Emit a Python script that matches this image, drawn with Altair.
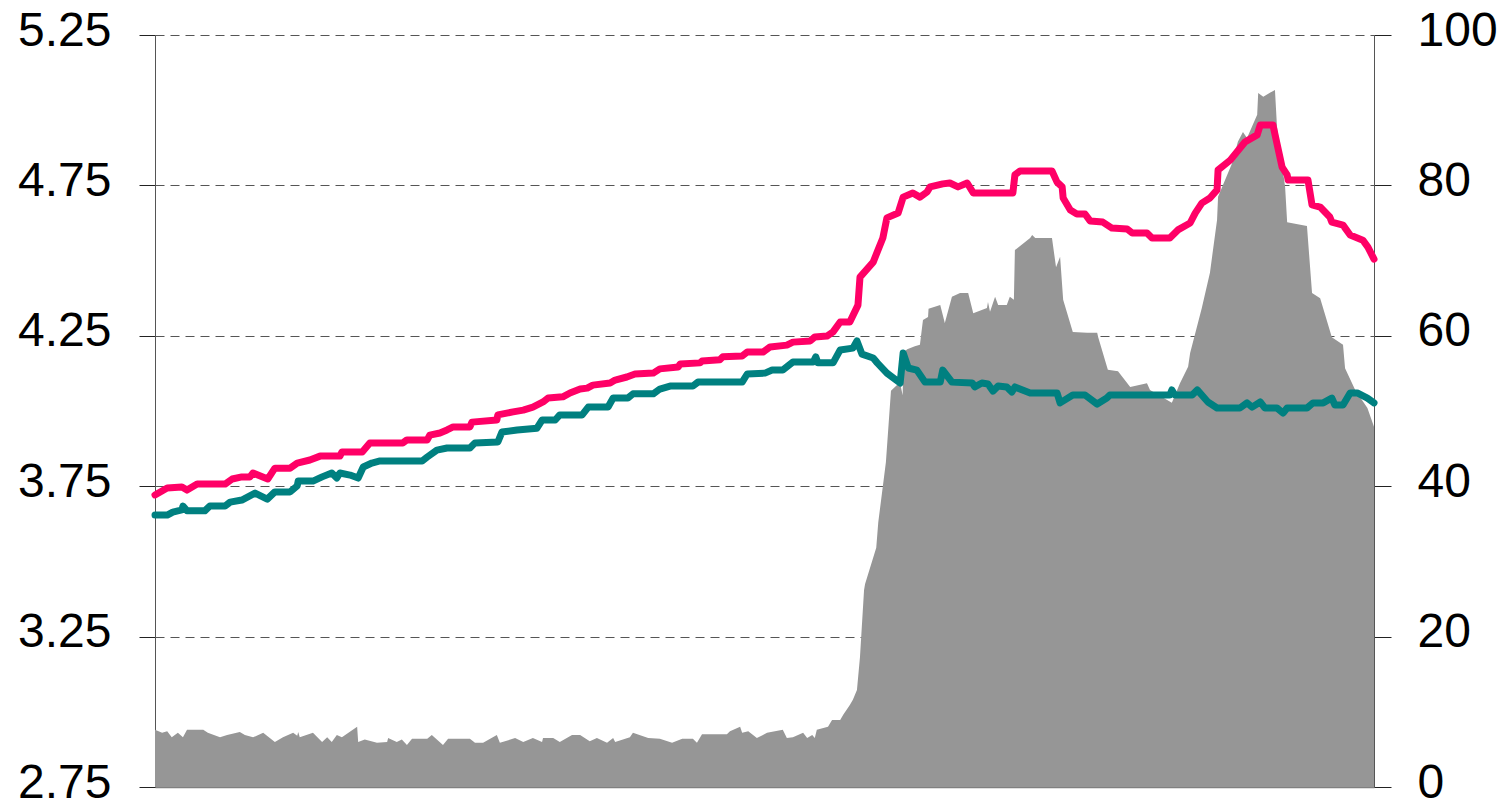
import altair as alt
import pandas as pd

# x: period index (0..240); left axis values for the two lines, right axis values for the grey area
PINK = [[0, 3.721], [2.4, 3.744], [5.3, 3.747], [6.3, 3.737], [8.3, 3.757], [13.8, 3.757], [15.2, 3.774],
        [17.1, 3.781], [18.7, 3.781], [19.3, 3.794], [22.2, 3.774], [23.6, 3.810], [26.6, 3.810], [28.0, 3.827],
        [30.5, 3.837], [32.5, 3.850], [36.4, 3.850], [36.8, 3.864], [40.8, 3.864], [42.3, 3.894], [48.8, 3.894],
        [49.6, 3.904], [53.6, 3.904], [54.1, 3.920], [56.1, 3.927], [57.5, 3.937], [58.7, 3.947], [62.0, 3.947],
        [62.4, 3.963], [67.3, 3.970], [67.5, 3.987], [70.5, 3.997], [72.5, 4.003], [74.4, 4.013], [76.4, 4.030],
        [77.4, 4.043], [80.3, 4.047], [81.7, 4.060], [83.7, 4.073], [85.1, 4.076], [86.2, 4.086], [89.6, 4.093],
        [90.6, 4.103], [92.9, 4.113], [94.5, 4.123], [98.1, 4.126], [99.4, 4.140], [103.0, 4.146], [103.4, 4.156],
        [107.3, 4.160], [107.7, 4.166], [111.2, 4.170], [111.8, 4.180], [115.6, 4.183], [116.6, 4.196],
        [119.7, 4.196], [121.1, 4.213], [124.4, 4.219], [125.6, 4.229], [129.0, 4.233], [129.9, 4.246],
        [132.3, 4.249], [133.5, 4.263], [134.9, 4.296], [136.8, 4.296], [138.4, 4.352], [138.8, 4.445],
        [141.4, 4.495], [142.2, 4.529], [143.3, 4.575], [144.1, 4.642], [146.3, 4.658], [147.3, 4.711],
        [149.2, 4.725], [150.6, 4.711], [152.0, 4.728], [152.6, 4.745], [155.1, 4.755], [156.5, 4.758],
        [158.1, 4.745], [159.9, 4.758], [161.1, 4.725], [168.9, 4.725], [169.3, 4.785], [170.3, 4.798],
        [176.6, 4.798], [177.6, 4.761], [178.6, 4.745], [178.8, 4.708], [180.2, 4.668], [181.5, 4.655],
        [183.1, 4.655], [184.1, 4.632], [186.6, 4.628], [188.4, 4.608], [191.4, 4.605], [192.4, 4.592],
        [195.3, 4.592], [196.3, 4.575], [199.8, 4.575], [201.4, 4.602], [203.8, 4.625], [204.8, 4.658],
        [206.1, 4.691], [207.7, 4.708], [209.1, 4.735], [209.3, 4.801], [211.7, 4.834], [214.6, 4.894],
        [217.0, 4.918], [217.6, 4.951], [220.1, 4.951], [221.9, 4.811], [222.9, 4.785], [223.1, 4.768],
        [227.0, 4.768], [227.8, 4.685], [229.4, 4.678], [231.3, 4.645], [231.7, 4.628], [233.9, 4.618],
        [235.3, 4.585], [237.8, 4.568], [238.8, 4.545], [240, 4.505]]

TEAL = [[0, 3.654], [2.4, 3.654], [3.5, 3.664], [5.3, 3.671], [5.5, 3.684], [6.3, 3.668], [9.8, 3.668],
        [10.8, 3.684], [13.8, 3.684], [14.8, 3.697], [17.1, 3.704], [19.7, 3.727], [22.1, 3.707], [23.6, 3.731],
        [26.6, 3.731], [28.0, 3.751], [28.2, 3.767], [31.1, 3.767], [32.9, 3.781], [34.8, 3.794], [35.8, 3.777],
        [36.4, 3.794], [38.4, 3.787], [40.0, 3.777], [41.0, 3.814], [42.7, 3.827], [44.3, 3.834], [52.6, 3.834],
        [53.6, 3.847], [55.5, 3.870], [57.5, 3.877], [62.0, 3.877], [63.0, 3.894], [67.5, 3.897], [68.3, 3.930],
        [71.3, 3.937], [75.2, 3.943], [76.2, 3.970], [78.8, 3.970], [79.7, 3.987], [84.1, 3.987], [85.3, 4.013],
        [89.2, 4.013], [90.2, 4.043], [93.1, 4.043], [94.1, 4.057], [98.1, 4.057], [99.4, 4.073], [101.4, 4.083],
        [105.9, 4.083], [106.9, 4.096], [115.6, 4.096], [116.6, 4.123], [120.1, 4.126], [121.5, 4.136],
        [123.6, 4.136], [125.6, 4.163], [129.6, 4.163], [130.1, 4.180], [130.5, 4.160], [133.5, 4.160],
        [134.9, 4.203], [137.4, 4.209], [138.2, 4.233], [139.2, 4.189], [141.4, 4.176], [142.2, 4.160],
        [144.1, 4.126], [146.7, 4.093], [147.3, 4.193], [148.3, 4.143], [150.0, 4.136], [151.6, 4.096],
        [154.6, 4.096], [155.1, 4.136], [156.9, 4.096], [160.9, 4.093], [161.4, 4.080], [162.8, 4.093],
        [164.0, 4.090], [165.0, 4.066], [166.0, 4.083], [167.7, 4.080], [168.7, 4.063], [169.3, 4.080],
        [172.3, 4.060], [177.6, 4.060], [178.2, 4.027], [180.7, 4.053], [183.1, 4.053], [185.5, 4.023],
        [187.4, 4.043], [188.0, 4.053], [199.8, 4.053], [200.2, 4.070], [200.8, 4.053], [204.2, 4.053],
        [205.2, 4.070], [207.3, 4.030], [209.1, 4.010], [213.6, 4.010], [215.0, 4.027], [216.0, 4.013],
        [217.6, 4.030], [218.5, 4.010], [220.9, 4.010], [222.1, 3.993], [222.9, 4.010], [226.8, 4.010],
        [228.0, 4.027], [230.0, 4.027], [231.7, 4.043], [232.3, 4.020], [233.9, 4.020], [235.3, 4.060],
        [236.7, 4.060], [238.7, 4.043], [240, 4.027]]

GREY = [[0, 7.6], [1.4, 7.2], [2.4, 7.4], [3.3, 6.6], [4.5, 7.2], [5.5, 6.6], [6.3, 7.6], [9.5, 7.6],
        [10.4, 7.2], [12.8, 6.6], [14.2, 6.9], [16.7, 7.3], [17.7, 6.9], [19.3, 6.6], [21.3, 7.2], [23.6, 6.0],
        [25.2, 6.6], [27.2, 7.2], [28.0, 6.8], [28.2, 7.3], [28.5, 6.6], [31.1, 7.2], [32.9, 6.0], [33.9, 6.6],
        [34.8, 6.0], [35.8, 6.9], [36.8, 6.6], [39.8, 8.0], [40.0, 6.0], [41.3, 6.3], [43.7, 5.9], [45.7, 6.0],
        [45.9, 6.5], [47.6, 6.0], [48.6, 6.3], [49.6, 5.6], [50.6, 6.4], [53.6, 6.4], [54.5, 6.9], [56.7, 5.6],
        [57.7, 6.4], [62.0, 6.4], [63.0, 5.9], [64.6, 5.9], [67.3, 6.9], [67.9, 5.9], [70.9, 6.5], [72.5, 6.0],
        [74.4, 6.5], [76.2, 6.0], [76.4, 6.5], [78.4, 6.5], [79.7, 6.0], [82.1, 6.9], [83.7, 6.9], [85.6, 6.1],
        [87.0, 6.5], [89.0, 5.9], [90.2, 6.5], [90.6, 6.0], [93.5, 6.6], [94.1, 7.2], [97.1, 6.5], [99.4, 6.4],
        [101.8, 5.9], [103.8, 6.4], [105.9, 6.4], [106.7, 5.9], [107.7, 7.0], [112.6, 7.0], [113.2, 7.4],
        [115.2, 8.0], [115.6, 7.2], [116.8, 7.4], [118.5, 6.5], [120.5, 7.2], [123.6, 7.6], [124.4, 6.5],
        [125.6, 6.6], [127.6, 7.2], [128.4, 6.5], [129.4, 6.9], [129.9, 6.5], [130.3, 7.6], [132.5, 8.0],
        [133.3, 8.9], [134.9, 8.9], [135.5, 9.6], [136.8, 10.9], [137.4, 11.6], [138.2, 12.9], [138.8, 17.3],
        [139.6, 26.2], [139.8, 27.0], [142.0, 31.8], [142.4, 35.2], [143.9, 43.2], [144.9, 52.7], [146.3, 53.6],
        [146.7, 53.7], [147.2, 52.1], [147.4, 57.8], [148.1, 58.2], [149.6, 58.6], [150.6, 58.8], [151.2, 62.1],
        [152.2, 62.5], [152.3, 63.6], [154.6, 64.1], [155.5, 61.7], [156.9, 65.2], [158.5, 65.7], [160.1, 65.7],
        [161.1, 63.0], [163.8, 63.7], [164.0, 64.5], [164.4, 63.2], [165.4, 65.2], [166.0, 64.1], [167.7, 64.1],
        [168.3, 65.2], [169.1, 64.8], [169.3, 71.4], [172.3, 73.0], [172.7, 73.4], [173.3, 73.0], [176.6, 73.0],
        [177.4, 69.1], [178.2, 70.5], [178.8, 64.8], [180.7, 60.5], [183.5, 60.4], [185.5, 60.4], [185.7, 59.8],
        [187.6, 55.5], [189.6, 55.3], [192.0, 53.2], [195.3, 53.7], [195.9, 52.8], [200.2, 51.1], [201.8, 53.7],
        [203.4, 55.9], [203.8, 57.7], [206.1, 63.7], [207.7, 68.4], [209.1, 75.4], [209.3, 78.5], [210.1, 79.8],
        [212.1, 83.0], [213.2, 85.8], [214.2, 87.1], [215.0, 86.3], [217.0, 89.4], [217.2, 92.3], [218.2, 91.8],
        [220.5, 92.7], [220.9, 87.8], [222.5, 79.8], [222.9, 75.1], [226.8, 74.6], [227.8, 65.7], [229.4, 65.0],
        [231.7, 59.8], [233.9, 58.8], [234.3, 55.7], [236.3, 52.8], [238.7, 50.4], [240, 47.9]]

LEFT_TICKS = [2.75, 3.25, 3.75, 4.25, 4.75, 5.25]
RIGHT_TICKS = [0, 20, 40, 60, 80, 100]

FONT = "Liberation Sans"
FONT_SIZE = 48

lines = pd.concat([
    pd.DataFrame(PINK, columns=["t", "v"]).assign(series="pink"),
    pd.DataFrame(TEAL, columns=["t", "v"]).assign(series="teal"),
])
grey = pd.DataFrame(GREY, columns=["t", "v"])

x_enc = alt.X("t:Q", scale=alt.Scale(domain=[0, 240], nice=False, zero=False),
              axis=alt.Axis(labels=False, ticks=False, grid=False, title=None,
                            domainColor="#808080", domainWidth=1.5))

area = alt.Chart(grey).mark_area(color="#969696", interpolate="linear").encode(
    x=x_enc,
    y=alt.Y("v:Q", scale=alt.Scale(domain=[0, 100], nice=False),
            axis=alt.Axis(orient="right", values=RIGHT_TICKS, grid=False, title=None,
                          labelFont=FONT, labelFontSize=FONT_SIZE, labelColor="black",
                          labelPadding=26, tickSize=17, tickColor="#222222",
                          domainColor="#555555", labelOffset=-4)),
)

line = alt.Chart(lines).mark_line(strokeWidth=7, strokeJoin="round", strokeCap="round").encode(
    x=x_enc,
    y=alt.Y("v:Q", scale=alt.Scale(domain=[2.75, 5.25], nice=False, zero=False),
            axis=alt.Axis(orient="left", values=LEFT_TICKS, format=".2f", title=None,
                          grid=True, gridColor="#555555", gridDash=[9, 6], gridWidth=1,
                          labelFont=FONT, labelFontSize=FONT_SIZE, labelColor="black",
                          labelPadding=28, tickSize=16, tickColor="#222222",
                          domainColor="#555555", labelOffset=-4)),
    color=alt.Color("series:N", scale=alt.Scale(domain=["pink", "teal"], range=["#FF0066", "#008080"]),
                    legend=None),
)

chart = alt.layer(area, line).resolve_scale(y="independent").properties(
    width=1219, height=752,
    autosize=alt.AutoSizeParams(type="none"),
    padding={"left": 147, "top": 27, "right": 124, "bottom": 11},
).configure_view(stroke=None)

chart.save("out.html", embed_options={"renderer": "svg", "actions": False})
